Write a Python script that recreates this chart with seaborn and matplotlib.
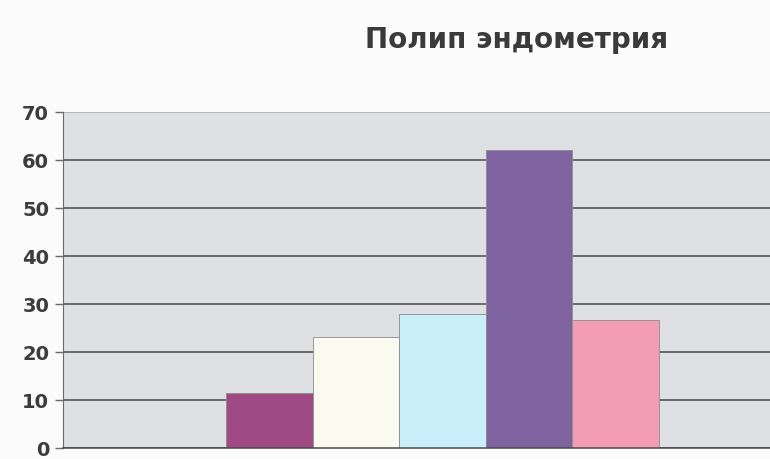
import seaborn as sns
import matplotlib.pyplot as plt
import pandas as pd

# values
series = ['Группа 1', 'Группа 2', 'Группа 3', 'Группа 4', 'Группа 5']
values = [11.5, 23.2, 28, 62, 26.7]
colors = ['#9f4a85', '#fafaf0', '#c9eef9', '#7f63a1', '#f39db2']
category = 'Полип эндометрия'
yticks = [0, 10, 20, 30, 40, 50, 60, 70]

df = pd.DataFrame({
    'Category': [category] * len(series),
    'Series': series,
    'Value': values
})

sns.set_style('white')
plt.rcParams['font.family'] = ['DejaVu Sans']

fig = plt.figure(figsize=(7.7, 4.59), dpi=100)
fig.patch.set_facecolor('#fbfbfb')

# plot area runs past the right edge, like in the cropped scan
W, H = 770, 459
ax = fig.add_axes([63 / W, (H - 448) / H, (822 - 63) / W, (448 - 112) / H])
ax.set_facecolor('#dfe0e3')

sns.barplot(
    data=df, x='Category', y='Value', hue='Series',
    hue_order=series, palette=colors, saturation=1, width=0.57, gap=0,
    edgecolor='#8c8c8c', linewidth=0.6, legend=False, ax=ax
)

ax.set_xlim(-0.5, 0.5)
ax.set_ylim(0, 70)
ax.set_yticks(yticks)
ax.set_xticks([])
ax.set_xlabel('')
ax.set_ylabel('')
ax.yaxis.grid(True, color='#4a4a4a', linewidth=1.1)
ax.set_axisbelow(True)
# top border of the plot area is lighter than the gridlines
ax.yaxis.get_gridlines()[-1].set_color('#a8a8a8')

for side in ['top', 'right']:
    ax.spines[side].set_visible(False)
ax.spines['left'].set_color('#6a6a6a')
ax.spines['bottom'].set_color('#4a4a4a')
ax.spines['bottom'].set_linewidth(1.1)

ax.tick_params(axis='y', which='major', direction='out', length=6, width=1,
               color='#6a6a6a', labelsize=14, labelcolor='#3c3c3c', pad=4, left=True)
for lab in ax.get_yticklabels():
    lab.set_fontweight('bold')

fig.text(517 / W, 1 - 40 / H, category, ha='center', va='center',
         fontsize=20, fontweight='bold', color='#3a3a3a')

plt.savefig('out.png', dpi=100)
plt.close()
